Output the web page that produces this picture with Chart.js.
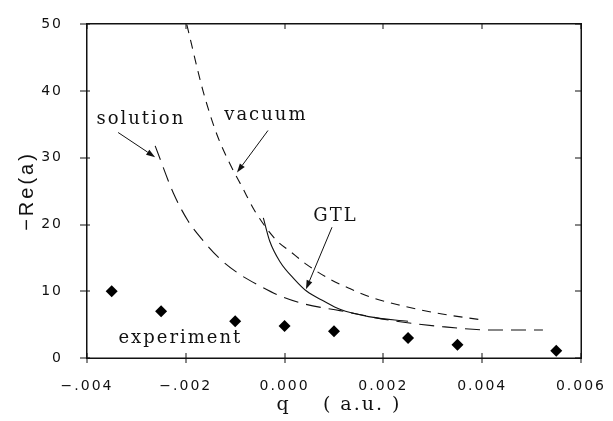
<!DOCTYPE html>
<html>
<head>
<meta charset="utf-8">
<script src="https://cdn.jsdelivr.net/npm/chart.js@4/dist/chart.umd.min.js"></script>
<style>
  html, body { margin: 0; padding: 0; background: #fff; }
  #wrap { width: 613px; height: 421px; }
</style>
</head>
<body>
<div id="wrap"><canvas id="chart" width="613" height="421"></canvas></div>
<script>
// experiment points
const expQ = [-0.0035, -0.0025, -0.001, 0.0, 0.001, 0.0025, 0.0035, 0.0055];
const expRe = [10.0, 7.0, 5.5, 4.8, 4.0, 3.0, 2.0, 1.1];

// vacuum curve (short dashes)
const vacQ = [-0.00198, -0.00165, -0.00137, -0.0011, -0.00085, -0.0006, -0.00016, 0.00011, 0.00045, 0.00092, 0.00132, 0.00179, 0.00234, 0.0031, 0.004];
const vacRe = [50, 40, 33.5, 29, 25.5, 22, 17.6, 16.0, 14.0, 11.8, 10.4, 9.0, 7.9, 6.7, 5.7];

// solution curve (long dashes)
const solQ = [-0.00262, -0.00225, -0.00195, -0.00165, -0.0013, -0.0009, -0.0005, -0.00009, 0.0004, 0.00112, 0.00218, 0.00319, 0.00421, 0.00523];
const solRe = [31.8, 24.7, 20.5, 17.6, 14.8, 12.5, 10.8, 9.3, 8.1, 7.1, 5.6, 4.7, 4.2, 4.2];

// GTL curve (solid)
const gtlQ = [-0.00043, -0.0003, -0.00009, 0.0002, 0.00045, 0.0008, 0.00112, 0.0017, 0.0025];
const gtlRe = [21.0, 17.5, 14.4, 11.8, 10.0, 8.5, 7.3, 6.2, 5.5];

const xTickLabels = ['\u2212.004', '\u2212.002', '0.000', '0.002', '0.004', '0.006'];
const yTickLabels = ['0', '10', '20', '30', '40', '50'];

// text labels and arrows, in data units
const notes = [
    { text: 'solution', q: -0.00293, re: 35.1 },
    { text: 'vacuum', q: -0.0004, re: 35.7 },
    { text: 'GTL', q: 0.00101, re: 20.6 },
    { text: 'experiment', q: -0.00213, re: 2.2 }
];
const arrows = [
    { from: [-0.00337, 33.8], to: [-0.00262, 30.1] },
    { from: [-0.000336, 34.1], to: [-0.000964, 27.8] },
    { from: [0.00096, 19.6], to: [0.000433, 10.3] }
];

const toPts = (xs, ys) => xs.map((x, i) => ({ x: x, y: ys[i] }));

const frame = {
    id: 'frame',
    beforeDraw(chart) {
        chart.ctx.letterSpacing = '2px';
    },
    afterDraw(chart) {
        const { ctx, scales: { x, y } } = chart;
        const L = Math.round(x.getPixelForValue(x.min)), R = Math.round(x.getPixelForValue(x.max));
        const T = Math.round(y.getPixelForValue(y.max)), B = Math.round(y.getPixelForValue(y.min));
        ctx.save();
        ctx.letterSpacing = '0px';
        ctx.setLineDash([]);
        ctx.fillStyle = '#111111';
        // box
        ctx.fillRect(L - 1, T - 1, R - L + 2, 1.5);
        ctx.fillRect(L - 1, B - 0.5, R - L + 2, 1.5);
        ctx.fillRect(L - 1, T - 1, 1.5, B - T + 2);
        ctx.fillRect(R - 0.5, T - 1, 1.5, B - T + 2);
        // ticks
        y.ticks.forEach(t => {
            const py = Math.round(y.getPixelForValue(t.value));
            ctx.fillRect(L - 7, py - 0.5, 10, 1);
            ctx.fillRect(R - 6, py - 0.5, 6, 1);
        });
        x.ticks.forEach(t => {
            const px = Math.round(x.getPixelForValue(t.value));
            ctx.fillRect(px - 0.5, B - 5, 1, 10);
            ctx.fillRect(px - 0.5, T, 1, 5);
        });

        // arrows
        ctx.strokeStyle = '#111111';
        ctx.lineWidth = 1;
        arrows.forEach(ar => {
            const x0 = x.getPixelForValue(ar.from[0]), y0 = y.getPixelForValue(ar.from[1]);
            const x1 = x.getPixelForValue(ar.to[0]), y1 = y.getPixelForValue(ar.to[1]);
            const ang = Math.atan2(y1 - y0, x1 - x0);
            const len = 9, w = 3;
            const bx = x1 - len * Math.cos(ang), by = y1 - len * Math.sin(ang);
            ctx.beginPath();
            ctx.moveTo(x0, y0); ctx.lineTo(bx, by);
            ctx.stroke();
            ctx.beginPath();
            ctx.moveTo(x1, y1);
            ctx.lineTo(bx + w * Math.sin(ang), by - w * Math.cos(ang));
            ctx.lineTo(bx - w * Math.sin(ang), by + w * Math.cos(ang));
            ctx.closePath();
            ctx.fill();
        });

        // curve labels
        ctx.font = '18px "DejaVu Serif"';
        ctx.letterSpacing = '2px';
        ctx.textAlign = 'center';
        ctx.textBaseline = 'alphabetic';
        notes.forEach(n => {
            ctx.fillText(n.text, x.getPixelForValue(n.q) + 1, y.getPixelForValue(n.re));
        });

        // axis titles
        ctx.font = '19px "DejaVu Serif"';
        ctx.fillText('q    ( a.u. )', (L + R) / 2 + 5, 410);
        ctx.save();
        ctx.translate(L - 60, (T + B) / 2);
        ctx.rotate(-Math.PI / 2);
        ctx.font = '20px "Liberation Sans"';
        ctx.letterSpacing = '3px';
        ctx.textBaseline = 'middle';
        ctx.fillText('\u2212Re(a)', 0, 0);
        ctx.restore();
        ctx.restore();
        ctx.letterSpacing = '0px';
    }
};

new Chart(document.getElementById('chart'), {
    type: 'scatter',
    data: {
        datasets: [
            {
                label: 'experiment',
                data: toPts(expQ, expRe),
                pointStyle: 'rectRot',
                pointRadius: 6,
                backgroundColor: '#000',
                borderColor: '#000',
                borderWidth: 0
            },
            {
                label: 'vacuum',
                data: toPts(vacQ, vacRe),
                showLine: true,
                pointRadius: 0,
                borderColor: '#111',
                borderWidth: 1.1,
                borderDash: [9, 7],
                cubicInterpolationMode: 'monotone'
            },
            {
                label: 'solution',
                data: toPts(solQ, solRe),
                showLine: true,
                pointRadius: 0,
                borderColor: '#111',
                borderWidth: 1.1,
                borderDash: [15, 8],
                cubicInterpolationMode: 'monotone'
            },
            {
                label: 'GTL',
                data: toPts(gtlQ, gtlRe),
                showLine: true,
                pointRadius: 0,
                borderColor: '#111',
                borderWidth: 1.1,
                cubicInterpolationMode: 'monotone'
            }
        ]
    },
    options: {
        responsive: false,
        animation: false,
        events: [],
        layout: { padding: { top: 18, right: 32, left: 0, bottom: 0 } },
        plugins: {
            legend: { display: false },
            tooltip: { enabled: false }
        },
        scales: {
            x: {
                type: 'linear',
                min: -0.004,
                max: 0.006,
                grid: { display: false },
                border: { display: false },
                afterFit: s => { s.height = 63; },
                ticks: {
                    stepSize: 0.002,
                    padding: 12,
                    color: '#111',
                    font: { family: 'DejaVu Sans', size: 14 },
                    callback: (v, i) => xTickLabels[i]
                }
            },
            y: {
                min: 0,
                max: 50,
                grid: { display: false },
                border: { display: false },
                afterFit: s => { s.width = 87; },
                ticks: {
                    stepSize: 10,
                    padding: 16,
                    color: '#111',
                    font: { family: 'DejaVu Sans', size: 14 },
                    callback: (v, i) => yTickLabels[i]
                }
            }
        }
    },
    plugins: [frame]
});
</script>
</body>
</html>
